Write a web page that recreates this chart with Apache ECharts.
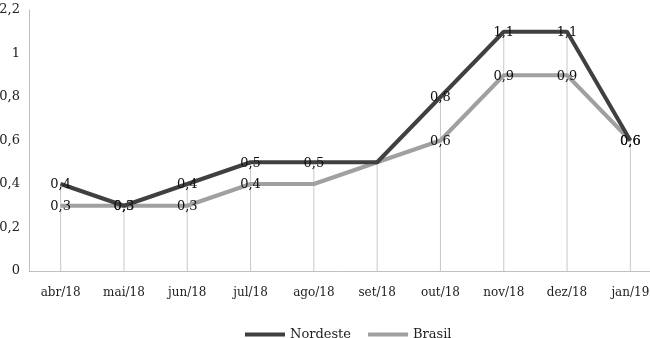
<!DOCTYPE html>
<html>
<head>
<meta charset="utf-8">
<script src="https://cdn.jsdelivr.net/npm/echarts@6/dist/echarts.min.js"></script>
<style>
  html, body { margin: 0; padding: 0; background: #fff; }
  #chart { width: 650px; height: 338px; }
</style>
</head>
<body>
<div id="chart"></div>
<script>
// dados
var meses = ["abr/18", "mai/18", "jun/18", "jul/18", "ago/18", "set/18", "out/18", "nov/18", "dez/18", "jan/19"];
var nordeste = [0.4, 0.3, 0.4, 0.5, 0.5, 0.5, 0.8, 1.1, 1.1, 0.6];
var brasil = [0.3, 0.3, 0.3, 0.4, 0.4, 0.5, 0.6, 0.9, 0.9, 0.6];
// rótulos do eixo y como aparecem no original (o último diz 2,2)
var yTicks = ["0", "0,2", "0,4", "0,6", "0,8", "1", "2,2"];
// meses (índices) sem rótulo de dado no original
var semRotuloNordeste = [5];
var semRotuloBrasil = [4, 5];

// linhas verticais até o ponto mais alto de cada mês
var drop = nordeste.map(function (v, i) { return Math.max(v, brasil[i]); });

var fonte = "DejaVu Serif";
function virgula(p) { return String(p.value).replace(".", ","); }
function comRotulos(vals, ocultos) {
  return vals.map(function (v, i) {
    return ocultos.indexOf(i) >= 0 ? { value: v, label: { show: false } } : v;
  });
}

var chart = echarts.init(document.getElementById("chart"));
chart.setOption({
  animation: false,
  textStyle: { fontFamily: fonte },
  grid: { left: 29, top: 10, bottom: 67, width: 633, outerBoundsMode: "none", containLabel: false },
  legend: {
    top: 323,
    left: 240,
    itemWidth: 40,
    itemHeight: 4,
    itemGap: 17,
    icon: "rect",
    textStyle: { fontFamily: fonte, fontSize: 13, color: "#222" },
    data: ["Nordeste", "Brasil"]
  },
  xAxis: {
    type: "category",
    data: meses,
    axisLine: { lineStyle: { color: "#bfbfbf" } },
    axisTick: { show: false },
    axisLabel: { color: "#222", fontSize: 12, margin: 16 }
  },
  yAxis: {
    type: "value",
    min: 0,
    max: 1.2,
    interval: 0.2,
    axisLine: { show: true, lineStyle: { color: "#bfbfbf" } },
    splitLine: { show: false },
    axisLabel: {
      color: "#222",
      fontSize: 13,
      margin: 9,
      formatter: function (v) { return yTicks[Math.round(v / 0.2)]; }
    }
  },
  series: [
    {
      name: "queda",
      type: "bar",
      data: drop,
      barWidth: 1,
      silent: true,
      itemStyle: { color: "#c8c8c8" },
      z: 1
    },
    {
      name: "Brasil",
      type: "line",
      data: comRotulos(brasil, semRotuloBrasil),
      symbol: "circle",
      symbolSize: 1,
      showSymbol: true,
      lineStyle: { width: 4, color: "#a0a0a0" },
      itemStyle: { color: "#a0a0a0" },
      label: { show: true, position: "top", distance: -8, color: "#111", fontSize: 13, fontFamily: fonte, formatter: virgula },
      z: 3
    },
    {
      name: "Nordeste",
      type: "line",
      data: comRotulos(nordeste, semRotuloNordeste),
      symbol: "circle",
      symbolSize: 1,
      showSymbol: true,
      lineStyle: { width: 4, color: "#404040" },
      itemStyle: { color: "#404040" },
      label: { show: true, position: "top", distance: -8, color: "#111", fontSize: 13, fontFamily: fonte, formatter: virgula },
      z: 4
    }
  ]
});
</script>
</body>
</html>
